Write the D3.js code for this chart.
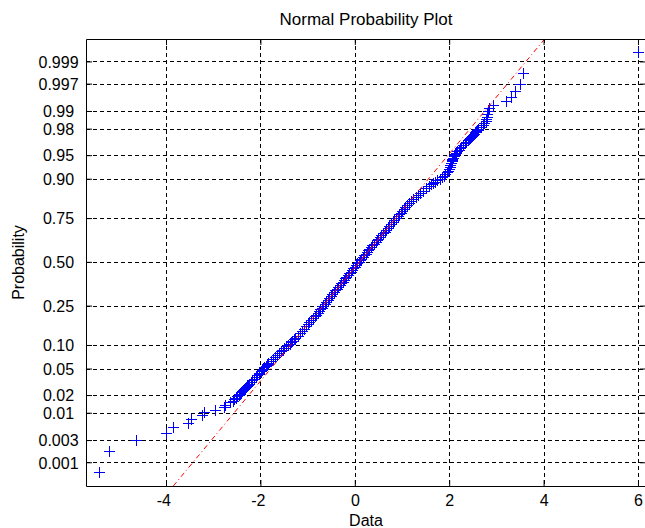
<!DOCTYPE html>
<html><head><meta charset="utf-8">
<script src="https://cdn.jsdelivr.net/npm/d3@7"></script>
<style>
body{margin:0;background:#fff;}
svg{display:block;}
text{font-family:"Liberation Sans",Arial,sans-serif;fill:#000;}
</style>
</head><body>
<svg id="chart" width="645" height="528"></svg>
<script>
// ---------- data ----------
const titleText = "Normal Probability Plot";
const xLabelText = "Data";
const yLabelText = "Probability";

const xTicks = [-4, -2, 0, 2, 4, 6];
const xTickLabels = ["-4", "-2", "0", "2", "4", "6"];
const yTicks = [0.001, 0.003, 0.01, 0.02, 0.05, 0.10, 0.25, 0.50, 0.75, 0.90, 0.95, 0.98, 0.99, 0.997, 0.999];
const yTickLabels = ["0.001", "0.003", "0.01", "0.02", "0.05", "0.10", "0.25", "0.50", "0.75", "0.90", "0.95", "0.98", "0.99", "0.997", "0.999"];

const xLimits = [-5.695, 6.17];
const zLimits = [-3.456, 3.436];   // normal-quantile limits of the probability axis

// isolated points of the lower tail
const lowTailX = [-5.43, -5.20, -4.64, -4.00, -3.85, -3.53, -3.47, -3.24, -3.19, -2.96, -2.77, -2.74, -2.65];
const lowTailP = [0.0006, 0.0018, 0.0030, 0.0042, 0.0054, 0.0066, 0.0078, 0.0090, 0.0102, 0.0114, 0.0127, 0.0139, 0.0151];

// dense central band
const bandP = [
  0.016,0.017,0.018,0.019,0.020,0.021,0.022,0.023,0.024,0.025,0.026,0.027,0.028,0.029,0.030,
  0.032,0.034,0.036,0.038,0.040,0.042,0.044,0.046,0.048,0.050,0.052,0.054,0.056,0.058,0.060,
  0.064,0.068,0.072,0.076,0.080,0.084,0.088,0.092,0.096,0.100,0.104,0.108,0.112,0.116,0.120,
  0.128,0.136,0.144,0.152,0.160,0.168,0.176,0.184,0.192,0.200,0.208,0.216,0.224,0.232,0.240,
  0.25,0.26,0.27,0.28,0.29,0.30,0.31,0.32,0.33,0.34,0.35,0.36,0.37,0.38,0.39,0.40,0.41,0.42,0.43,0.44,0.45,0.46,0.47,0.48,0.49,
  0.50,0.51,0.52,0.53,0.54,0.55,0.56,0.57,0.58,0.59,0.60,0.61,0.62,0.63,0.64,0.65,0.66,0.67,0.68,0.69,0.70,0.71,0.72,0.73,0.74,0.75,
  0.760,0.768,0.776,0.784,0.792,0.800,0.808,0.816,0.824,0.832,0.840,0.848,0.856,0.864,0.872,0.880,
  0.884,0.888,0.892,0.896,0.900,0.904,0.908,0.912,0.916,0.920,0.924,0.928,0.932,0.936,0.940,
  0.942,0.944,0.946,0.948,0.950,0.952,0.954,0.956,0.958,0.960,0.962,0.964,0.966,0.968,0.970,
  0.971,0.972,0.973,0.974,0.975,0.976,0.977,0.978,0.979,0.980
];
const bandX = [
  -2.58,-2.55,-2.52,-2.49,-2.46,-2.44,-2.41,-2.39,-2.37,-2.34,-2.32,-2.30,-2.28,-2.26,-2.24,
  -2.20,-2.17,-2.14,-2.10,-2.07,-2.04,-2.02,-1.99,-1.97,-1.94,-1.92,-1.89,-1.87,-1.85,-1.83,
  -1.78,-1.73,-1.69,-1.64,-1.60,-1.56,-1.52,-1.49,-1.45,-1.42,-1.38,-1.35,-1.32,-1.29,-1.27,
  -1.21,-1.16,-1.12,-1.07,-1.03,-0.99,-0.96,-0.92,-0.89,-0.85,-0.82,-0.79,-0.76,-0.73,-0.70,
  -0.67,-0.64,-0.60,-0.57,-0.54,-0.51,-0.48,-0.44,-0.41,-0.38,-0.35,-0.32,-0.29,-0.26,-0.23,-0.20,-0.18,-0.15,-0.12,-0.09,-0.06,-0.03,0.00,0.02,0.05,
  0.08,0.11,0.14,0.17,0.20,0.23,0.25,0.28,0.31,0.34,0.37,0.40,0.44,0.47,0.50,0.53,0.56,0.60,0.63,0.67,0.70,0.73,0.77,0.80,0.84,0.87,
  0.91,0.94,0.97,1.00,1.04,1.07,1.11,1.15,1.20,1.24,1.29,1.34,1.39,1.45,1.51,1.58,
  1.61,1.66,1.70,1.75,1.80,1.84,1.88,1.92,1.96,1.97,1.99,2.01,2.02,2.04,2.05,
  2.06,2.07,2.08,2.10,2.11,2.13,2.15,2.17,2.20,2.23,2.26,2.30,2.33,2.36,2.40,
  2.42,2.44,2.46,2.48,2.50,2.52,2.54,2.57,2.59,2.62
];

// isolated points of the upper tail
const highTailX = [2.68, 2.71, 2.74, 2.77, 2.79, 2.80, 2.81, 2.82, 2.84, 2.92, 3.20, 3.31, 3.40, 3.50, 3.57, 5.99];
const highTailP = [0.9813, 0.9825, 0.9837, 0.9849, 0.9861, 0.9873, 0.9886, 0.9898, 0.9910, 0.9922, 0.9934, 0.9946, 0.9958, 0.9970, 0.9982, 0.9994];

// reference line through the sample quartiles
const refP = [0.25, 0.75];
const refX = [-0.67, 0.87];

// ---------- helpers ----------
function probit(p) {
  const a=[-3.969683028665376e+01,2.209460984245205e+02,-2.759285104469687e+02,1.383577518672690e+02,-3.066479806614716e+01,2.506628277459239e+00];
  const b=[-5.447609879822406e+01,1.615858368580409e+02,-1.556989798598866e+02,6.680131188771972e+01,-1.328068155288572e+01];
  const c=[-7.784894002430293e-03,-3.223964580411365e-01,-2.400758277161838e+00,-2.549732539343734e+00,4.374664141464968e+00,2.938163982698783e+00];
  const d=[7.784695709041462e-03,3.224671290700398e-01,2.445134137142996e+00,3.754408661907416e+00];
  const pl = 0.02425;
  if (p < pl) { const q = Math.sqrt(-2*Math.log(p)); return (((((c[0]*q+c[1])*q+c[2])*q+c[3])*q+c[4])*q+c[5])/((((d[0]*q+d[1])*q+d[2])*q+d[3])*q+1); }
  if (p > 1-pl) { const q = Math.sqrt(-2*Math.log(1-p)); return -(((((c[0]*q+c[1])*q+c[2])*q+c[3])*q+c[4])*q+c[5])/((((d[0]*q+d[1])*q+d[2])*q+d[3])*q+1); }
  const q = p-0.5, r = q*q;
  return (((((a[0]*r+a[1])*r+a[2])*r+a[3])*r+a[4])*r+a[5])*q/(((((b[0]*r+b[1])*r+b[2])*r+b[3])*r+b[4])*r+1);
}

// ---------- layout ----------
const L = 86, R = 646, T = 39, B = 486;
const svg = d3.select("#chart");
const x = d3.scaleLinear().domain(xLimits).range([L, R]);
const z = d3.scaleLinear().domain(zLimits).range([B, T]);
const y = p => z(probit(p));

svg.append("defs").append("clipPath").attr("id", "clip")
  .append("rect").attr("x", L).attr("y", T).attr("width", R - L).attr("height", B - T);

// grid
const grid = svg.append("g").attr("stroke", "#000").attr("stroke-width", 1)
  .attr("stroke-dasharray", "4,3").attr("shape-rendering", "crispEdges");
grid.selectAll("line.v").data(xTicks).join("line").attr("class", "v")
  .attr("x1", d => Math.round(x(d)) + 0.5).attr("x2", d => Math.round(x(d)) + 0.5)
  .attr("y1", T).attr("y2", B);
grid.selectAll("line.h").data(yTicks).join("line").attr("class", "h")
  .attr("y1", d => Math.round(y(d)) + 0.5).attr("y2", d => Math.round(y(d)) + 0.5)
  .attr("x1", L).attr("x2", R);

// points
const pts = [];
lowTailX.forEach((v, i) => pts.push([v, lowTailP[i]]));
bandX.forEach((v, i) => pts.push([v, bandP[i]]));
highTailX.forEach((v, i) => pts.push([v, highTailP[i]]));
const plusPath = d => {
  const cx = Math.round(x(d[0])), cy = Math.round(y(d[1]));
  return `M${cx - 5},${cy + 0.5}H${cx + 6}M${cx + 0.5},${cy - 5}V${cy + 6}`;
};
svg.append("g").attr("clip-path", "url(#clip)")
  .selectAll("path").data(pts).join("path")
  .attr("d", plusPath).attr("fill", "none").attr("stroke", "#0000ff").attr("stroke-width", 1)
  .attr("shape-rendering", "crispEdges");

// reference line (solid between quartiles, dash-dot extension)
const slope = (refX[1] - refX[0]) / (probit(refP[1]) - probit(refP[0]));
const xAtZ = zz => refX[0] + slope * (zz - probit(refP[0]));
const lineG = svg.append("g").attr("clip-path", "url(#clip)").attr("fill", "none")
  .attr("stroke", "#ff0000").attr("stroke-width", 1);
const zq1 = probit(refP[0]), zq3 = probit(refP[1]);
lineG.append("line").attr("x1", x(xAtZ(zLimits[0]))).attr("y1", z(zLimits[0]))
  .attr("x2", x(xAtZ(zq1))).attr("y2", z(zq1)).attr("stroke-dasharray", "5,3,1,3");
lineG.append("line").attr("x1", x(xAtZ(zq1))).attr("y1", z(zq1))
  .attr("x2", x(xAtZ(zq3))).attr("y2", z(zq3));
lineG.append("line").attr("x1", x(xAtZ(zq3))).attr("y1", z(zq3))
  .attr("x2", x(xAtZ(zLimits[1]))).attr("y2", z(zLimits[1])).attr("stroke-dasharray", "5,3,1,3");

// axes
const fmtX = (d, i) => xTickLabels[i];
const gx = svg.append("g").attr("transform", `translate(0,${B})`)
  .call(d3.axisBottom(x).tickValues(xTicks).tickFormat(fmtX).tickSizeInner(-6).tickSizeOuter(0));
gx.selectAll("text").attr("text-anchor", "end").attr("x", 4.5).attr("y", 20).attr("dy", 0)
  .style("font-size", "16px");
svg.append("g").attr("transform", `translate(0,${T})`)
  .call(d3.axisTop(x).tickValues(xTicks).tickFormat("").tickSizeInner(-6).tickSizeOuter(0));

const yAxisScale = d3.scaleLinear().domain(zLimits).range([B, T]);
const gy = svg.append("g").attr("transform", `translate(${L},0)`)
  .call(d3.axisLeft(yAxisScale).tickValues(yTicks.map(probit)).tickFormat((d, i) => yTickLabels[i]).tickSizeInner(-6).tickSizeOuter(0));
gy.selectAll("text").attr("text-anchor", "middle").attr("x", -27.5).attr("dy", "0.36em")
  .style("font-size", "16px");
svg.append("g").attr("transform", `translate(${R},0)`)
  .call(d3.axisRight(yAxisScale).tickValues(yTicks.map(probit)).tickFormat("").tickSizeInner(-6).tickSizeOuter(0));

svg.selectAll(".domain").attr("stroke", "#000");
svg.selectAll(".tick line").attr("stroke", "#000");
svg.selectAll(".tick text").attr("fill", "#000").attr("font-family", null);

// titles
svg.append("text").attr("x", (L + R) / 2).attr("y", 25).attr("text-anchor", "middle")
  .style("font-size", "17px").text(titleText);
svg.append("text").attr("x", (L + R) / 2).attr("y", 526).attr("text-anchor", "middle")
  .style("font-size", "16px").text(xLabelText);
svg.append("text").attr("transform", `translate(23.5,${(T + B) / 2}) rotate(-90)`)
  .attr("text-anchor", "middle").style("font-size", "16px").text(yLabelText);
</script>
</body></html>
